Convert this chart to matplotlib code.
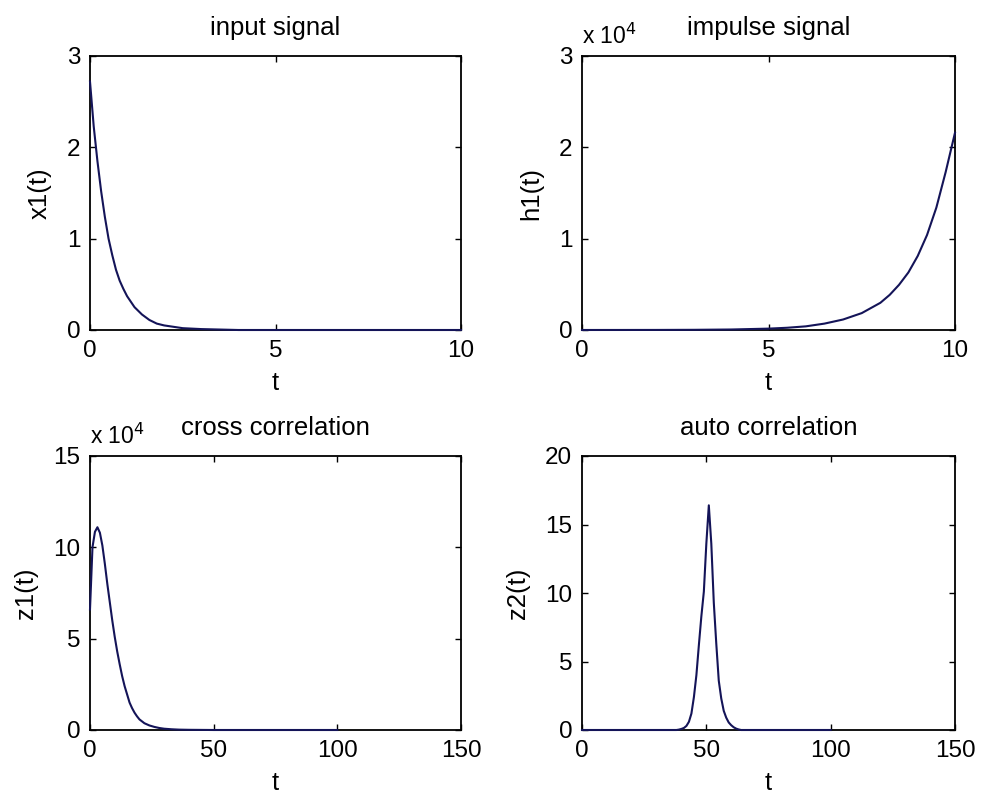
import matplotlib
matplotlib.use('Agg')
import matplotlib.pyplot as plt
from matplotlib.ticker import FuncFormatter

plt.rcParams['font.family'] = ['Liberation Sans', 'DejaVu Sans']

# input signal x1(t)
t_x1 = [0, 0.1, 0.2, 0.3, 0.4, 0.5, 0.6, 0.7, 0.8, 0.9, 1.0, 1.2, 1.4, 1.6,
        1.8, 2.0, 2.5, 3.0, 4.0, 5.0, 6.0, 7.0, 8.0, 9.0, 10.0]
x1 = [2.72, 2.23, 1.85, 1.52, 1.24, 1.00, 0.82, 0.66, 0.54, 0.45, 0.37, 0.25,
      0.17, 0.11, 0.07, 0.05, 0.02, 0.01, 0.0, 0.0, 0.0, 0.0, 0.0, 0.0, 0.0]

# impulse signal h1(t)
t_h1 = [0, 1, 2, 3, 4, 5, 5.5, 6, 6.5, 7, 7.5, 8, 8.25, 8.5, 8.75, 9, 9.25,
        9.5, 9.75, 10]
h1 = [1, 3, 7, 20, 55, 150, 245, 400, 700, 1150, 1850, 2980, 3850, 4950,
      6300, 8100, 10400, 13400, 17300, 21600]

# cross correlation z1
t_z1 = [0, 1, 2, 3, 4, 5, 6, 7, 8, 9, 10, 11, 12, 13, 14, 15, 16, 17, 18, 19,
        20, 22, 24, 26, 28, 30, 33, 36, 40, 50, 100]
z1 = [66000, 100000, 108500, 111000, 108000, 101000, 91000, 80000, 70000,
      60000, 51000, 43000, 36000, 29500, 24000, 19500, 15000, 12000, 9500,
      7500, 5800, 3700, 2500, 1700, 1100, 700, 400, 200, 100, 0, 0]

# auto correlation z2
t_z2 = [0, 38, 39, 40, 41, 42, 43, 44, 45, 46, 47, 48, 49, 50, 51, 52, 53, 54,
        55, 56, 57, 58, 59, 60, 61, 62, 63, 64, 100]
z2 = [0, 0.0, 0.03, 0.08, 0.15, 0.3, 0.6, 1.2, 2.4, 4.0, 6.2, 8.3, 10.1, 13.6,
      16.4, 13.6, 9.3, 6.3, 3.6, 2.3, 1.4, 0.9, 0.55, 0.35, 0.2, 0.1, 0.04, 0.0, 0]

line_color = '#141458'
tick_size = 17.5
label_size = 18.5

fig = plt.figure(figsize=(9.81, 8), dpi=100)

W, H = 981.0, 800.0
def place(x0, y0, x1_, y1_):
    return fig.add_axes([x0 / W, 1 - y1_ / H, (x1_ - x0) / W, (y1_ - y0) / H])

ax1 = place(90, 56, 461, 330)
ax2 = place(582, 56, 955, 330)
ax3 = place(90, 456, 461, 730)
ax4 = place(582, 456, 955, 730)

sci = FuncFormatter(lambda v, p: f'{v / 1e4:g}')

panels = [
    (ax1, t_x1, x1, 'input signal', 'x1(t)', (0, 10), [0, 5, 10], (0, 3), [0, 1, 2, 3], False),
    (ax2, t_h1, h1, 'impulse signal', 'h1(t)', (0, 10), [0, 5, 10], (0, 3e4), [0, 1e4, 2e4, 3e4], True),
    (ax3, t_z1, z1, 'cross correlation', 'z1(t)', (0, 150), [0, 50, 100, 150], (0, 15e4), [0, 5e4, 10e4, 15e4], True),
    (ax4, t_z2, z2, 'auto correlation', 'z2(t)', (0, 150), [0, 50, 100, 150], (0, 20), [0, 5, 10, 15, 20], False),
]

for ax, tx, ty, title, ylab, xl, xt, yl, yt, scaled in panels:
    ax.plot(tx, ty, color=line_color, linewidth=1.5, clip_on=False, zorder=3)
    ax.set_xlim(*xl)
    ax.set_ylim(*yl)
    ax.set_xticks(xt)
    ax.set_yticks(yt)
    if scaled:
        ax.yaxis.set_major_formatter(sci)
        ax.text(0.0, 1.045, r'x 10$^{4}$', transform=ax.transAxes,
                ha='left', va='baseline', fontsize=16.5)
    ax.set_title(title, fontsize=label_size, pad=15)
    ax.set_xlabel('t', fontsize=label_size, labelpad=7)
    ax.set_ylabel(ylab, fontsize=label_size, labelpad=11)
    ax.tick_params(direction='in', top=True, right=True, length=4, width=1,
                   labelsize=tick_size, pad=7)
    for s in ax.spines.values():
        s.set_linewidth(1.3)

plt.savefig('out.png', dpi=100)
